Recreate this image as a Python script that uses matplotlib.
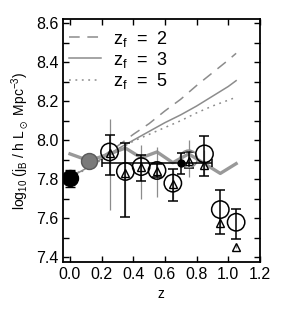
import numpy as np
import matplotlib
matplotlib.use('Agg')
import matplotlib.pyplot as plt

plt.rcParams['font.family'] = ['Liberation Sans', 'DejaVu Sans']
plt.rcParams['mathtext.default'] = 'regular'

# model tracks for three formation redshifts
z_model = [0.0, 0.1, 0.2, 0.3, 0.4, 0.5, 0.6, 0.7, 0.8, 0.9, 1.0, 1.05]
j_zf2 = [7.81, 7.86, 7.915, 7.97, 8.03, 8.085, 8.15, 8.21, 8.28, 8.345, 8.41, 8.445]
j_zf3 = [7.81, 7.855, 7.905, 7.955, 8.0, 8.045, 8.09, 8.13, 8.175, 8.225, 8.275, 8.305]
j_zf5 = [7.81, 7.85, 7.90, 7.95, 7.995, 8.03, 8.065, 8.10, 8.14, 8.175, 8.205, 8.22]

# thick grey zig-zag
z_zig = [0.0, 0.12, 0.25, 0.35, 0.45, 0.55, 0.65, 0.75, 0.85, 0.95, 1.05]
j_zig = [7.93, 7.895, 7.93, 7.96, 7.91, 7.94, 7.885, 7.93, 7.88, 7.83, 7.88]

# open circles / triangles
z_bin = [0.25, 0.35, 0.45, 0.55, 0.65, 0.75, 0.85, 0.95, 1.05]
j_circ = [7.94, 7.84, 7.865, 7.845, 7.78, 7.905, 7.93, 7.645, 7.58]
j_circ_lo = [7.82, 7.605, 7.79, 7.81, 7.69, 7.86, 7.815, 7.52, 7.495]
j_circ_hi = [8.025, 7.985, 7.925, 7.88, 7.855, 7.94, 8.02, 7.745, 7.648]
j_tri = [7.935, 7.83, 7.865, 7.84, 7.775, 7.895, 7.872, 7.575, 7.455]
j_tri_lo = [7.645, 7.61, 7.70, 7.71, 7.70, 7.81, 7.82, 7.55, 7.45]
j_tri_hi = [8.11, 7.985, 7.975, 7.965, 7.85, 8.0, 7.95, 7.60, 7.47]
circ_edge = ['black'] * 5 + ['#8c8c8c'] + ['black'] * 3

# local points
z_local = [0.0]
j_local = [7.805]
j_local_err = [0.045]
z_sdss = [0.12]
j_sdss = [7.893]
z_sdss_err = [0.043]
j_sdss_err = [0.02]
z_wide = [0.70]
j_wide = [7.885]
z_wide_err = [[0.50], [0.20]]
j_wide_err = [[0.06], [0.05]]

grey = '#8c8c8c'

fig = plt.figure(figsize=(2.98, 3.19), dpi=100)
ax = fig.add_axes([0.211, 0.179, 0.661, 0.761])

ax.plot(z_model, j_zf2, color=grey, lw=1.1, dashes=(7, 5), label='z$_f$  =  2')
ax.plot(z_model, j_zf3, color=grey, lw=1.1, label='z$_f$  =  3')
ax.plot(z_model, j_zf5, color=grey, lw=1.1, dashes=(1.2, 3), label='z$_f$  =  5')

ax.plot(z_zig, j_zig, color='#999999', lw=2.4, zorder=2)

tri = np.array(j_tri)
ax.errorbar(z_bin, tri, yerr=[tri - np.array(j_tri_lo), np.array(j_tri_hi) - tri],
            fmt='none', ecolor=grey, elinewidth=0.9, zorder=3)
circ = np.array(j_circ)
ax.errorbar(z_bin, circ, yerr=[circ - np.array(j_circ_lo), np.array(j_circ_hi) - circ],
            fmt='none', ecolor='black', elinewidth=1.1, capsize=3.5, capthick=1.1, zorder=4)

ax.plot(z_bin, j_tri, ls='none', marker='^', ms=6, mfc='none', mec='black', mew=1.0, zorder=5)
ax.scatter(z_bin, j_circ, s=12.5 ** 2, marker='o', facecolors='none',
           edgecolors=circ_edge, linewidths=1.1, zorder=5)

ax.errorbar(z_wide, j_wide, xerr=z_wide_err, yerr=j_wide_err, fmt='o', ms=5,
            color='black', elinewidth=1.1, capsize=3, capthick=1.1, zorder=6)
ax.errorbar(z_sdss, j_sdss, xerr=z_sdss_err, yerr=j_sdss_err, fmt='o', ms=11.5,
            mfc='#7a7a7a', mec='#5a5a5a', ecolor='#333333', elinewidth=1.0,
            capsize=3, zorder=6)
ax.errorbar(z_local, j_local, yerr=j_local_err, fmt='o', ms=11.5, color='black',
            mfc='black', elinewidth=1.1, capsize=3.5, zorder=6)

ax.set_xlim(-0.045, 1.2)
ax.set_ylim(7.377, 8.62)
ax.set_xticks([0.0, 0.2, 0.4, 0.6, 0.8, 1.0, 1.2])
ax.set_yticks([7.4, 7.6, 7.8, 8.0, 8.2, 8.4, 8.6])
ax.set_yticks(np.arange(7.5, 8.6, 0.2), minor=True)
ax.tick_params(direction='in', top=True, right=True, length=4, width=1.0,
               labelsize=11.5, pad=4)
ax.tick_params(axis='y', pad=3)
ax.tick_params(which='minor', direction='in', right=True, left=True, length=4, width=1.0)
for s in ax.spines.values():
    s.set_linewidth(1.3)

ax.set_xlabel('z', fontsize=10, labelpad=3)
ax.set_ylabel('log$_{10}$ (j$_B$ / h L$_\\odot$ Mpc$^{-3}$)', fontsize=10, labelpad=4)

ax.legend(loc='upper left', frameon=False, fontsize=13, handlelength=1.75,
          labelspacing=0.06, borderaxespad=0.0, borderpad=0.3, handletextpad=0.65,
          bbox_to_anchor=(0.005, 0.983))

fig.savefig('out.png', dpi=100)
